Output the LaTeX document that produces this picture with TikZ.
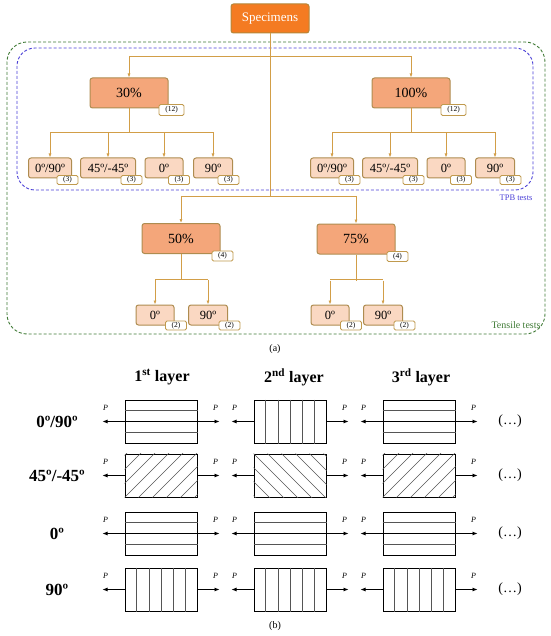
\documentclass[tikz,border=0pt]{standalone}
\usepackage{fontspec}
\setmainfont{Liberation Serif}
\usetikzlibrary{arrows.meta, calc, positioning}

% Fibre patterns drawn inside a layer node
\newcommand{\hlines}[1]{%
    \draw[fibre] ($(#1.north west)!0.25!(#1.south west)$) -- ($(#1.north east)!0.25!(#1.south east)$);
    \draw[fibre] ($(#1.north west)!0.75!(#1.south west)$) -- ($(#1.north east)!0.75!(#1.south east)$);
    \draw[line width=0.7pt] (#1.west) -- (#1.east);}
\newcommand{\vlines}[1]{%
    \foreach \k in {1,...,5}
        \draw[fibre] ($(#1.north west)!\k/6!(#1.north east)$) -- ($(#1.south west)!\k/6!(#1.south east)$);}
\newcommand{\dlines}[1]{%
    \begin{scope}
        \clip (#1.south west) rectangle (#1.north east);
        \foreach \k in {-3,...,5}
            \draw[fibre] ([xshift=\k*14pt]#1.south west) -- ++(50,-50);
    \end{scope}}
\newcommand{\elines}[1]{%
    \begin{scope}
        \clip (#1.south west) rectangle (#1.north east);
        \foreach \k in {-3,...,5}
            \draw[fibre] ([xshift=\k*14pt]#1.north west) -- ++(50,50);
    \end{scope}}

\begin{document}
\begin{tikzpicture}[x=1pt, y=-1pt,
    box/.style={draw=boxBorder, line width=1pt, rounded corners=2.5pt, inner sep=1pt, align=center},
    rootbox/.style={box, draw=rootBorder, fill=rootFill, text=white, minimum width=78pt, minimum height=29pt, font=\fontsize{13}{15}\selectfont},
    groupbox/.style={box, fill=groupFill, minimum width=78pt, minimum height=30pt, font=\fontsize{14}{16}\selectfont},
    leafbox/.style={box, fill=leafFill, minimum height=20pt, font=\fontsize{12.5}{14}\selectfont},
    tagbox/.style={draw=tagBorder, line width=0.8pt, fill=white, rounded corners=1.5pt, minimum width=21pt, minimum height=9pt, inner sep=0.5pt, font=\fontsize{7.5}{8}\selectfont},
    branch/.style={draw=lineColour, line width=0.7pt},
    connector/.style={branch, -{Latex[length=4pt, width=3pt]}},
    layerbox/.style={draw, line width=1pt, minimum width=72pt, minimum height=43pt, inner sep=0pt},
    fibre/.style={draw=fibreColour, line width=0.6pt},
    force/.style={line width=0.7pt, -{Latex[length=5pt, width=4pt]}},
    forcelabel/.style={font=\fontsize{8}{9}\selectfont\itshape},
    rowlabel/.style={font=\fontsize{17}{19}\selectfont\bfseries},
    ]
    % Define colours
    \definecolor{rootFill}{HTML}{F47B22}
    \definecolor{rootBorder}{HTML}{B5873A}
    \definecolor{groupFill}{HTML}{F4A67A}
    \definecolor{leafFill}{HTML}{FAD8C2}
    \definecolor{boxBorder}{HTML}{AE8C50}
    \definecolor{tagBorder}{HTML}{C09A4E}
    \definecolor{lineColour}{HTML}{D29E48}
    \definecolor{tpbColour}{HTML}{4A3FD6}
    \definecolor{tensileColour}{HTML}{3F7A35}
    \definecolor{fibreColour}{HTML}{555555}

    \useasboundingbox (0,0) rectangle (550,636);

    % Test groups
    \draw[tensileColour, densely dashed, line width=0.9pt, rounded corners=20pt] (7,42) rectangle (545,334);
    \draw[tpbColour, densely dashed, line width=0.9pt, rounded corners=18pt] (17,48) rectangle (533,190);
    \node[tpbColour, font=\fontsize{8.5}{10}\selectfont] (tpb) at (516,198) {TPB tests};
    \node[tensileColour, font=\fontsize{10}{12}\selectfont] (tensile) at (516,325) {Tensile tests};

    % Root
    \node[rootbox] (spec) at (270,18.5) {Specimens};
    \coordinate (jtop) at (270,56);
    \coordinate (jlow) at (270,196);

    % Fibre contents
    \node[groupbox] (p30) at (129,93) {30\%};
    \node[groupbox] (p100) at (411,93) {100\%};
    \node[groupbox] (p50) at (181,238.5) {50\%};
    \node[groupbox] (p75) at (356,239) {75\%};
    \node[tagbox, minimum width=25pt, minimum height=11pt] (tp30) at ([shift={(3,1.5)}]p30.south east) {(12)};
    \node[tagbox, minimum width=25pt, minimum height=11pt] (tp100) at ([shift={(3,1.5)}]p100.south east) {(12)};
    \node[tagbox, minimum height=10pt] (tp50) at ([shift={(2,2)}]p50.south east) {(4)};
    \node[tagbox, minimum height=10pt] (tp75) at ([shift={(2,2)}]p75.south east) {(4)};

    \draw[branch] (spec.south) -- (jlow);
    \draw[branch] (p30.north |- jtop) -- (p100.north |- jtop);
    \draw[connector] (p30.north |- jtop) -- (p30.north);
    \draw[connector] (p100.north |- jtop) -- (p100.north);
    \draw[branch] (p50.north |- jlow) -- (p75.north |- jlow);
    \draw[connector] (p50.north |- jlow) -- (p50.north);
    \draw[connector] (p75.north |- jlow) -- (p75.north);

    % Lay-ups for TPB tests
    \foreach \p/\dx in {p30/0, p100/282} {
        \draw[branch] (\p.south) -- ++(0,24) coordinate (j\p);
        \draw[branch] (50+\dx,132) -- (213+\dx,132);
        \foreach \x/\w/\txt [count=\i] in {50/43/{0º/90º}, 108/55/{45º/-45º}, 164/38/{0º}, 213/39/{90º}} {
            \node[leafbox, minimum width=\w pt] (\p c\i) at (\x+\dx,168) {\txt};
            \node[tagbox] (t\p c\i) at ([shift={(-4.5,1.5)}]\p c\i.south east) {(3)};
            \draw[connector] (j\p -| \p c\i.north) -- (\p c\i.north);
        }
    }

    % Lay-ups for tensile tests
    \foreach \p/\dx in {p50/0, p75/175} {
        \draw[branch] (\p.south) -- ++(0,26) coordinate (j\p);
        \draw[branch] (155+\dx,279) -- (208+\dx,279);
        \foreach \x/\w/\txt [count=\i] in {155/38/{0º}, 208/39/{90º}} {
            \node[leafbox, minimum width=\w pt] (\p c\i) at (\x+\dx,315) {\txt};
            \node[tagbox] (t\p c\i) at ([shift={(1.5,0)}]\p c\i.south east) {(2)};
            \draw[connector] (j\p -| \p c\i.north) -- (\p c\i.north);
        }
    }

    \node[font=\fontsize{10}{12}\selectfont] (capa) at (275,349) {(a)};

    % Layer headers
    \node[font=\fontsize{16}{18}\selectfont\bfseries] (h1) at (162,377) {1\textsuperscript{st} layer};
    \node[font=\fontsize{16}{18}\selectfont\bfseries] (h2) at (294,377) {2\textsuperscript{nd} layer};
    \node[font=\fontsize{16}{18}\selectfont\bfseries] (h3) at (421,377) {3\textsuperscript{rd} layer};

    % Stacking sequences
    \foreach \ytop/\txt/\pa/\pb/\pc [count=\row] in {400/{0º/90º}/\hlines/\vlines/\hlines, 454/{45º/-45º}/\dlines/\elines/\dlines, 512/{0º}/\hlines/\hlines/\hlines, 568/{90º}/\vlines/\vlines/\vlines} {
        \node[rowlabel] (R\row) at (57,\ytop+21.5) {\txt};
        \node[font=\fontsize{14}{16}\selectfont] (dots\row) at (510,\ytop+21.5) {(…)};
        \foreach \xl/\pat [count=\col] in {125/\pa, 254/\pb, 383/\pc} {
            \node[layerbox] (L\row\col) at (\xl+36,\ytop+21.5) {};
            \pat{L\row\col}
            \draw[force] (L\row\col.west) -- ++(-22,0) coordinate (pl\row\col);
            \draw[force] (L\row\col.east) -- ++(22,0) coordinate (pr\row\col);
            \node[forcelabel] (Pl\row\col) at ([shift={(3,-14)}]pl\row\col) {P};
            \node[forcelabel] (Pr\row\col) at ([shift={(-4,-14)}]pr\row\col) {P};
        }
    }

    \node[font=\fontsize{10}{12}\selectfont] (capb) at (275,626) {(b)};
\end{tikzpicture}
\end{document}
